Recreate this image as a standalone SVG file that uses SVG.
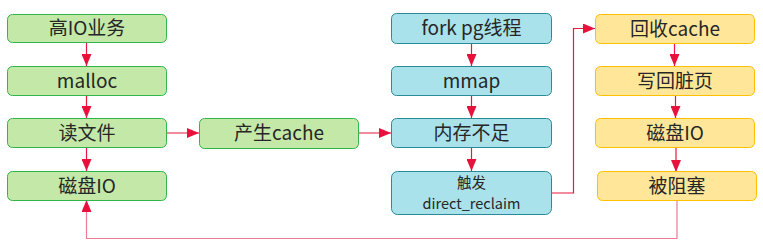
<svg xmlns="http://www.w3.org/2000/svg" width="763" height="247" viewBox="0 0 763 247">
<defs>
<style>
.g rect{fill:#c3e8a8;stroke:#2fb54a;stroke-width:1}
.b rect{fill:#a9e2ea;stroke:#2a8a96;stroke-width:1}
.y rect{fill:#ffe699;stroke:#ffc000;stroke-width:1}
text{font-family:"Microsoft YaHei","Noto Sans CJK SC","Noto Sans",sans-serif;font-size:19px;fill:#262626;text-anchor:middle}
text.s{font-size:14.5px}
.c path{fill:none;stroke:#e8173c;stroke-width:1.2}
.c path.p{stroke:#f07a90}
</style>
<marker id="ah2" viewBox="0 0 12 10" refX="12" refY="5" markerWidth="12" markerHeight="10" markerUnits="userSpaceOnUse" orient="auto"><path d="M0,0 L12,5 L0,10 z" fill="#e8113c"/></marker>
</defs>
<g class="c" id="connectors">
<path d="M86.5,42 V66" marker-end="url(#ah2)"/>
<path d="M86.5,95 V118" marker-end="url(#ah2)"/>
<path d="M86.5,147 V171" marker-end="url(#ah2)"/>
<path d="M166,133 H199" marker-end="url(#ah2)"/>
<path d="M358,133 H391" marker-end="url(#ah2)"/>
<path d="M471.5,43 V66" marker-end="url(#ah2)"/>
<path d="M471.5,95 V118" marker-end="url(#ah2)"/>
<path d="M471.5,148 V171" marker-end="url(#ah2)"/>
<path d="M551,193 H573.5 V28.5 H595" marker-end="url(#ah2)"/>
<path d="M674.5,43 V66" marker-end="url(#ah2)"/>
<path d="M675.5,95 V118" marker-end="url(#ah2)"/>
<path d="M676,147 V172" marker-end="url(#ah2)"/>
<path class="p" d="M677,200 V238.5 H86.5 V210"/>
<path d="M86.5,212 V200" marker-end="url(#ah2)"/>
</g>
<g id="n1" class="g"><rect x="7.5" y="14.5" width="159" height="28" rx="5"/><text x="87" y="35">高IO业务</text></g>
<g id="n2" class="g"><rect x="7.5" y="66.5" width="159" height="29" rx="5"/><text x="87" y="87.5">malloc</text></g>
<g id="n3" class="g"><rect x="7.5" y="118.5" width="159" height="29" rx="5"/><text x="87" y="139.5">读文件</text></g>
<g id="n4" class="g"><rect x="7.5" y="171.5" width="159" height="29" rx="5"/><text x="87" y="192.5">磁盘IO</text></g>
<g id="n5" class="g"><rect x="199.5" y="118.5" width="159" height="30" rx="5"/><text x="279" y="140">产生cache</text></g>
<g id="n6" class="b"><rect x="391.5" y="13.5" width="160" height="30" rx="5"/><text x="471.5" y="35">fork pg线程</text></g>
<g id="n7" class="b"><rect x="391.5" y="66.5" width="160" height="29" rx="5"/><text x="471.5" y="87.5">mmap</text></g>
<g id="n8" class="b"><rect x="391.5" y="118.5" width="160" height="29" rx="5"/><text x="471.5" y="139.5">内存不足</text></g>
<g id="n9" class="b"><rect x="391.5" y="171.5" width="160" height="43" rx="6"/><text class="s" x="471.5" y="188">触发</text><text class="s" x="471.5" y="209">direct_reclaim</text></g>
<g id="n10" class="y"><rect x="595.5" y="14.5" width="159" height="29" rx="5"/><text x="675" y="35.5">回收cache</text></g>
<g id="n11" class="y"><rect x="595.5" y="66.5" width="159" height="29" rx="5"/><text x="675" y="87.5">写回脏页</text></g>
<g id="n12" class="y"><rect x="595.5" y="118.5" width="159" height="29" rx="5"/><text x="675" y="139.5">磁盘IO</text></g>
<g id="n13" class="y"><rect x="597.5" y="171.5" width="159" height="29" rx="5"/><text x="677" y="192.5">被阻塞</text></g>
</svg>
